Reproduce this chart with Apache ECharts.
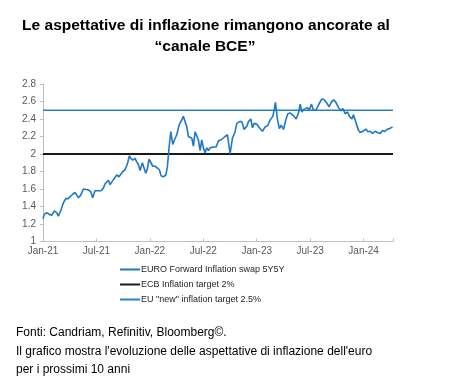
<!DOCTYPE html>
<html>
<head>
<meta charset="utf-8">
<script src="https://cdn.jsdelivr.net/npm/echarts@6/dist/echarts.min.js"></script>
<style>html,body{margin:0;padding:0;background:#fff;}#c{width:450px;height:387px;}</style>
</head>
<body>
<div id="c"></div>
<script>
// months since Jan-2021
var months = [0,0.15,0.42,0.71,0.98,1.27,1.54,1.72,2.02,2.28,2.55,2.84,3.11,3.34,3.60,3.79,3.97,4.24,4.53,4.83,5.09,5.36,5.58,5.84,6.15,6.52,6.78,6.97,7.16,7.34,7.53,7.79,8.01,8.28,8.54,8.76,8.96,9.21,9.47,9.70,9.85,10.08,10.34,10.53,10.71,10.90,11.16,11.38,11.54,11.72,11.91,12.10,12.33,12.58,12.84,13.07,13.26,13.52,13.79,13.97,14.16,14.35,14.57,14.75,15.02,15.28,15.58,15.76,15.96,16.15,16.33,16.52,16.71,16.89,17.08,17.27,17.45,17.64,17.83,18.01,18.20,18.39,18.57,18.76,19.13,19.44,19.70,19.97,20.19,20.45,20.71,21.01,21.27,21.57,21.76,22.06,22.33,22.58,22.89,23.07,23.34,23.52,23.71,24.01,24.30,24.64,24.94,25.20,25.51,25.81,25.99,26.10,26.33,26.55,26.74,27.00,27.27,27.49,27.75,27.94,28.20,28.43,28.69,28.88,29.07,29.25,29.47,29.70,29.89,30.15,30.37,30.64,30.93,31.31,31.57,31.88,32.13,32.36,32.62,32.89,33.18,33.45,33.67,33.93,34.19,34.42,34.69,34.87,35.17,35.43,35.62,35.92,36.26,36.48,36.74,37.00,37.30,37.56,37.87,38.12,38.35,38.62,38.91,39.25];
var swap5y5y = [1.26,1.31,1.33,1.31,1.30,1.35,1.33,1.29,1.36,1.44,1.49,1.49,1.52,1.54,1.56,1.53,1.50,1.53,1.60,1.595,1.59,1.57,1.50,1.58,1.58,1.58,1.61,1.66,1.65,1.70,1.65,1.69,1.71,1.76,1.74,1.74,1.80,1.82,1.885,1.98,1.95,1.93,1.95,1.91,1.88,1.81,1.90,1.88,1.78,1.83,1.94,1.96,1.86,1.86,1.84,1.82,1.75,1.74,1.76,1.855,2.08,2.255,2.11,2.16,2.22,2.33,2.39,2.43,2.43,2.31,2.20,2.21,2.18,2.09,2.255,2.24,2.16,2.04,2.16,2.07,2.015,2.07,2.04,2.07,2.08,2.08,2.15,2.16,2.14,2.20,2.22,2.00,2.18,2.255,2.35,2.37,2.37,2.28,2.32,2.37,2.40,2.30,2.35,2.34,2.30,2.26,2.31,2.32,2.39,2.43,2.52,2.59,2.39,2.29,2.33,2.28,2.39,2.46,2.47,2.48,2.43,2.40,2.47,2.57,2.48,2.51,2.49,2.53,2.50,2.57,2.50,2.50,2.56,2.63,2.62,2.58,2.54,2.59,2.62,2.59,2.53,2.495,2.52,2.46,2.48,2.43,2.40,2.45,2.35,2.27,2.245,2.26,2.285,2.255,2.26,2.235,2.26,2.245,2.235,2.27,2.255,2.28,2.29,2.31];
var ecbTarget = 2;
var euTarget = 2.5;
var xTickLabels = ['Jan-21','Jul-21','Jan-22','Jul-22','Jan-23','Jul-23','Jan-24'];
var seriesNames = ['EURO Forward Inflation swap 5Y5Y','ECB Inflation target 2%','EU "new" inflation target 2.5%'];
var titleLines = ['Le aspettative di inflazione rimangono ancorate al', '“canale BCE”'];
var footerText = "Fonti: Candriam, Refinitiv, Bloomberg©.\nIl grafico mostra l'evoluzione delle aspettative di inflazione dell'euro\nper i prossimi 10 anni";
var xMin = 0, xMax = 39.3;

var mainData = months.map(function(m,i){return [m, swap5y5y[i]];});
var chart = echarts.init(document.getElementById('c'));
var FONT = 'Liberation Sans, Arial, sans-serif';
chart.setOption({
  animation: false,
  textStyle: {fontFamily: FONT},
  grid: {left: 43, right: 57, top: 84, bottom: 145.5, containLabel: false},
  xAxis: {
    type: 'value', min: xMin, max: xMax, interval: 6,
    axisLine: {lineStyle: {color: '#bfbfbf'}},
    axisTick: {show: true, inside: true, length: 3, lineStyle: {color: '#bfbfbf'}},
    splitLine: {show: false},
    axisLabel: {color: '#595959', fontSize: 10, margin: 5,
      formatter: function(v){var k = Math.round(v/6); return (Math.abs(v-6*k)<1e-6 && xTickLabels[k]) ? xTickLabels[k] : '';}}
  },
  yAxis: {
    type: 'value', min: 1, max: 2.8, interval: 0.2,
    axisLine: {show: true, lineStyle: {color: '#bfbfbf'}},
    axisTick: {show: true, length: 3, lineStyle: {color: '#bfbfbf'}},
    splitLine: {show: false},
    axisLabel: {color: '#595959', fontSize: 10, margin: 7,
      formatter: function(v){return String(Math.round(v*10)/10);}}
  },
  legend: {
    orient: 'vertical', left: 115, top: 260, itemWidth: 20, itemHeight: 2, itemGap: 6,
    icon: 'rect',
    textStyle: {fontSize: 9, color: '#262626', padding: [0,0,0,-4]},
    data: seriesNames
  },
  series: [
    {name: seriesNames[2], type: 'line', data: [[xMin, euTarget],[xMax, euTarget]], symbol: 'none',
      lineStyle: {color: '#2b7fc9', width: 1.6}, itemStyle: {color: '#2b7fc9'}, z: 1},
    {name: seriesNames[1], type: 'line', data: [[xMin, ecbTarget],[xMax, ecbTarget]], symbol: 'none',
      lineStyle: {color: '#1a1a1a', width: 1.8}, itemStyle: {color: '#1a1a1a'}, z: 1},
    {name: seriesNames[0], type: 'line', data: mainData, symbol: 'none',
      lineStyle: {color: '#1f78c6', width: 1.6}, itemStyle: {color: '#1f78c6'}, z: 2}
  ],
  graphic: [
    {type: 'text', style: {x: 206, y: 26, text: titleLines[0], align: 'center', verticalAlign: 'middle',
      font: 'bold 15.5px ' + FONT, fill: '#000'}},
    {type: 'text', style: {x: 205, y: 47, text: titleLines[1], align: 'center', verticalAlign: 'middle',
      font: 'bold 15.5px ' + FONT, fill: '#000'}},
    {type: 'text', style: {x: 16, y: 324, text: footerText, align: 'left', verticalAlign: 'top',
      font: '12px ' + FONT, fill: '#000', lineHeight: 18.3}}
  ]
});
</script>
</body>
</html>
